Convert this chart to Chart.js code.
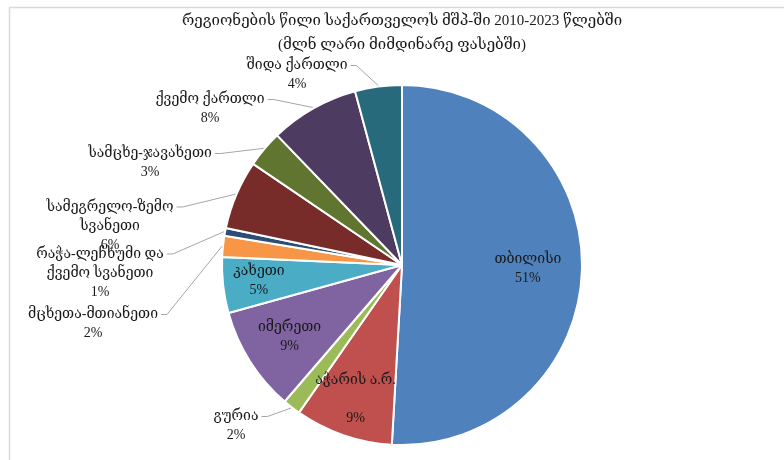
<!DOCTYPE html>
<html>
<head>
<meta charset="utf-8">
<script src="https://cdn.jsdelivr.net/npm/chart.js@4.4.0/dist/chart.umd.min.js"></script>
<style>
  html,body{margin:0;padding:0;background:#fff;}
  #wrap{width:784px;height:460px;}
</style>
</head>
<body>
<div id="wrap"><canvas id="gdp-pie" width="784" height="460"></canvas></div>
<script>
// regions, clockwise from 12 o'clock
const regions=['თბილისი','აჭარის ა.რ.','გურია','იმერეთი','კახეთი','მცხეთა-მთიანეთი',
  'რაჭა-ლეჩხუმი და ქვემო სვანეთი','სამეგრელო-ზემო სვანეთი','სამცხე-ჯავახეთი','ქვემო ქართლი','შიდა ქართლი'];
// share of GDP, %
const shares=[50.9,8.8,1.6,9.4,5.0,1.9,0.7,6.2,3.3,8.0,4.2];
const titleLines=['რეგიონების წილი საქართველოს მშპ-ში 2010-2023 წლებში','(მლნ ლარი მიმდინარე ფასებში)'];

const colors=['#4F81BD','#C0504D','#9BBB59','#8064A2','#4BACC6','#F79646','#2C4D75','#772C2A','#5F7530','#4D3B62','#276A7C'];

// how each label is split into lines and where it sits
// inside: r = fraction of radius along the slice middle
// outside: dx,dy = block centre relative to pie centre, leader drawn to slice edge
const labelLayout=[
  {lines:['თბილისი'],inside:true,r:0.70},
  {lines:['აჭარის ა.რ.',''],inside:true,r:0.79},
  {lines:['გურია'],dx:-166,dy:161},
  {lines:['იმერეთი'],inside:true,r:0.74},
  {lines:['კახეთი'],inside:true,r:0.80},
  {lines:['მცხეთა-მთიანეთი'],dx:-309,dy:59},
  {lines:['რაჭა-ლეჩხუმი და','ქვემო სვანეთი'],dx:-302,dy:8},
  {lines:['სამეგრელო-ზემო','სვანეთი'],dx:-292,dy:-39},
  {lines:['სამცხე-ჯავახეთი'],dx:-252,dy:-102},
  {lines:['ქვემო ქართლი'],dx:-192,dy:-156},
  {lines:['შიდა ქართლი'],dx:-105,dy:-190}
];

const FONT="'Liberation Serif','DejaVu Serif',serif";

const frame={id:'frame',beforeDraw(c){
  const g=c.ctx;g.save();
  g.strokeStyle='#d9d9d9';g.lineWidth=1.5;
  g.strokeRect(9.5,7.5,800,500);
  g.restore();
}};

const titleDraw={id:'titleDraw',afterDraw(c){
  const g=c.ctx;g.save();
  g.font='15px '+FONT;g.fillStyle='#1a1a1a';g.textAlign='center';g.textBaseline='middle';
  const cx=(c.chartArea.left+c.chartArea.right)/2;
  titleLines.forEach((t,k)=>g.fillText(t,cx,21+k*24));
  g.restore();
}};

const pieLabels={id:'pieLabels',afterDatasetsDraw(c){
  const g=c.ctx,meta=c.getDatasetMeta(0);
  const total=shares.reduce((a,b)=>a+b,0);
  g.save();
  g.font='14px '+FONT;g.fillStyle='#1a1a1a';g.textAlign='center';g.textBaseline='middle';
  const lh=19;
  meta.data.forEach((arc,i)=>{
    const L=labelLayout[i];
    const mid=(arc.startAngle+arc.endAngle)/2;
    const lines=L.lines.concat([Math.round(shares[i]/total*100)+'%']);
    let cx,cy;
    if(L.inside){
      cx=arc.x+Math.cos(mid)*arc.outerRadius*L.r;
      cy=arc.y+Math.sin(mid)*arc.outerRadius*L.r;
    }else{
      cx=arc.x+L.dx;cy=arc.y+L.dy;
    }
    const top=cy-(lines.length-1)*lh/2;
    lines.forEach((t,k)=>g.fillText(t,cx,top+k*lh));
    if(!L.inside){
      const w=g.measureText(lines[0]).width;
      const sx=cx+w/2+3,sy=top;
      const ex=arc.x+Math.cos(mid)*(arc.outerRadius+1);
      const ey=arc.y+Math.sin(mid)*(arc.outerRadius+1);
      g.strokeStyle='#a6a6a6';g.lineWidth=1;
      g.beginPath();g.moveTo(sx,sy);g.lineTo(sx+6,sy);g.lineTo(ex,ey);g.stroke();
    }
  });
  g.restore();
}};

new Chart(document.getElementById('gdp-pie'),{
  type:'pie',
  data:{labels:regions,datasets:[{data:shares,backgroundColor:colors,borderColor:'#ffffff',borderWidth:2}]},
  options:{
    responsive:false,animation:false,
    layout:{padding:{left:221,right:201,top:84,bottom:14}},
    plugins:{legend:{display:false},tooltip:{enabled:false},title:{display:false}}
  },
  plugins:[frame,pieLabels,titleDraw]
});
</script>
</body>
</html>
